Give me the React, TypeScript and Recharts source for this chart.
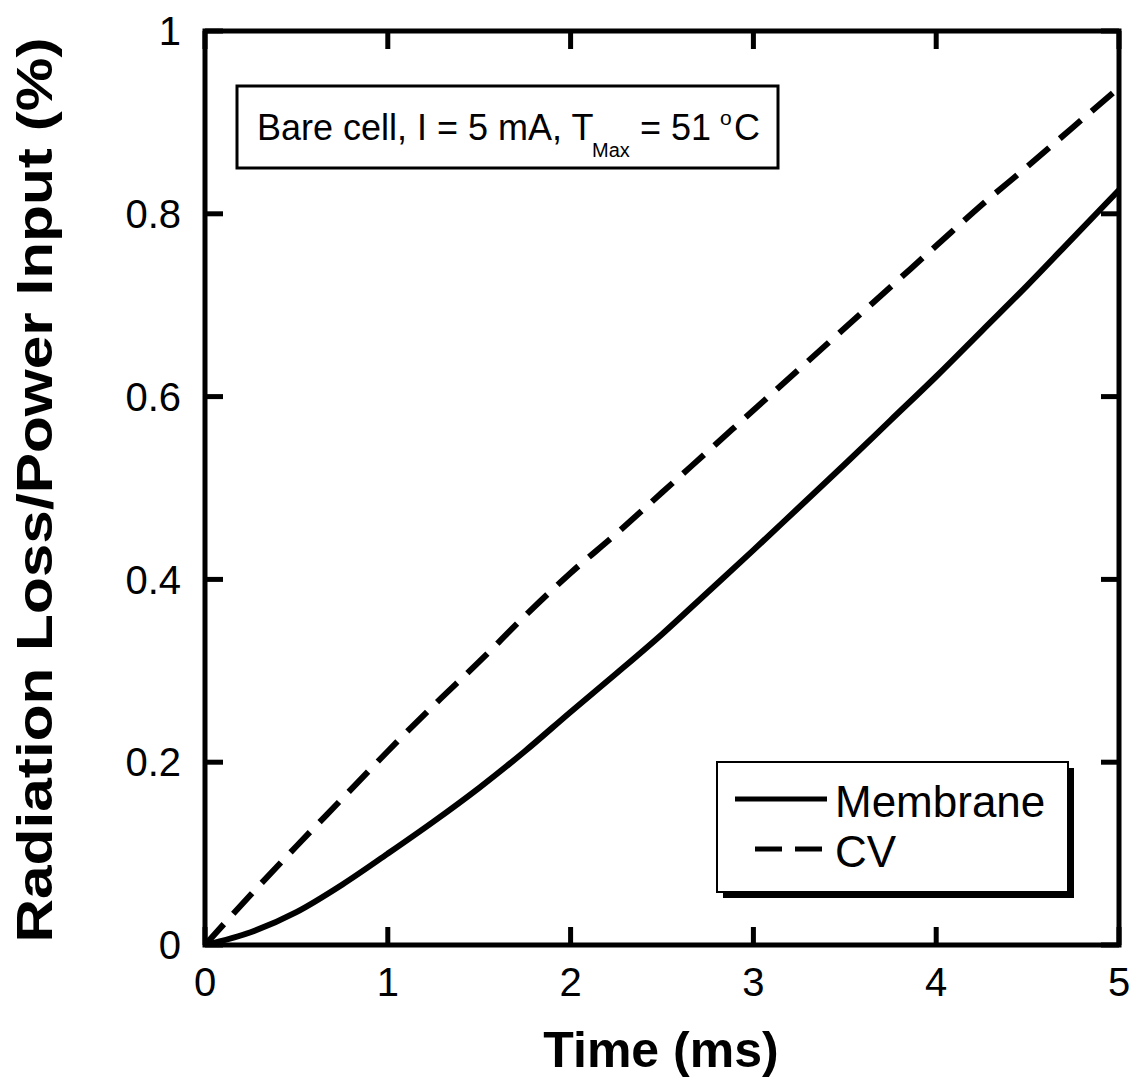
import { LineChart, Line, XAxis, YAxis, ReferenceArea } from 'recharts';

const FONT = '"Liberation Sans", Arial, Helvetica, sans-serif';

// time axis (ms)
const timeMs = [0, 0.25, 0.5, 0.75, 1, 1.25, 1.5, 1.75, 2, 2.25, 2.5, 2.75, 3, 3.25, 3.5, 3.75, 4, 4.25, 4.5, 4.75, 5];
// radiation loss / power input (%)
const membrane = [0, 0.014, 0.036, 0.066, 0.1, 0.135, 0.172, 0.212, 0.255, 0.297, 0.34, 0.386, 0.432, 0.479, 0.526, 0.574, 0.622, 0.672, 0.722, 0.774, 0.826];
const cv = [0, 0.055, 0.108, 0.16, 0.212, 0.262, 0.31, 0.36, 0.407, 0.45, 0.495, 0.54, 0.585, 0.63, 0.675, 0.72, 0.765, 0.81, 0.852, 0.895, 0.938];

const xTicks = [0, 1, 2, 3, 4, 5];
const yTicks = [0, 0.2, 0.4, 0.6, 0.8, 1];
const seriesNames = ['Membrane', 'CV'];

const data = timeMs.map((t, i) => ({ t, membrane: membrane[i], cv: cv[i] }));

// plot box edges in pixels (layout only)
const LEFT = 205;
const RIGHT = 1119;
const TOP = 31;
const BOTTOM = 945;
const TICK = 18;
const DASH = '28 14';

const renderXTick = (props: any) => {
  const cx = props.payload.coordinate;
  return (
    <g>
      <line x1={cx} y1={BOTTOM} x2={cx} y2={BOTTOM - TICK} stroke="#000" strokeWidth={5} />
      <line x1={cx} y1={TOP} x2={cx} y2={TOP + TICK} stroke="#000" strokeWidth={5} />
      <text x={cx} y={BOTTOM + 23} dy="0.71em" textAnchor="middle" fontFamily={FONT} fontSize={40} fill="#000">
        {props.payload.value}
      </text>
    </g>
  );
};

const renderYTick = (props: any) => {
  const cy = props.payload.coordinate;
  return (
    <g>
      <line x1={LEFT} y1={cy} x2={LEFT + TICK} y2={cy} stroke="#000" strokeWidth={5} />
      <line x1={RIGHT} y1={cy} x2={RIGHT - TICK} y2={cy} stroke="#000" strokeWidth={5} />
      <text x={LEFT - 24} y={cy} dy="0.355em" textAnchor="end" fontFamily={FONT} fontSize={40} fill="#000">
        {props.payload.value}
      </text>
    </g>
  );
};

export default function App() {
  return (
    <div style={{ position: 'absolute', left: 0, top: 0, background: '#fff' }}>
      <LineChart width={1137} height={1082} data={data} margin={{ top: TOP, right: 1137 - RIGHT, left: 10, bottom: 10 }}>
        <XAxis
          dataKey="t"
          type="number"
          domain={[0, 5]}
          ticks={xTicks}
          allowDataOverflow
          height={1082 - BOTTOM - 10}
          axisLine={false}
          tickLine={false}
          tick={renderXTick}
          label={{
            content: () => (
              <text x={661} y={1067} textAnchor="middle" fontFamily={FONT} fontWeight="bold" fontSize={50} fill="#000">
                Time (ms)
              </text>
            ),
          }}
        />
        <YAxis
          type="number"
          domain={[0, 1]}
          ticks={yTicks}
          allowDataOverflow
          width={LEFT - 10}
          axisLine={false}
          tickLine={false}
          tick={renderYTick}
          label={{
            content: () => (
              <text
                x={52}
                y={490}
                transform="rotate(-90 52 490)"
                textAnchor="middle"
                fontFamily={FONT}
                fontWeight="bold"
                fontSize={50}
                textLength={905}
                lengthAdjust="spacingAndGlyphs"
                fill="#000"
              >
                Radiation Loss/Power Input (%)
              </text>
            ),
          }}
        />
        <ReferenceArea x1={0} x2={5} y1={0} y2={1} fill="none" stroke="#000" strokeWidth={5} ifOverflow="visible" />
        <Line
          type="monotone"
          dataKey="membrane"
          name={seriesNames[0]}
          stroke="#000"
          strokeWidth={6}
          dot={false}
          isAnimationActive={false}
        />
        <Line
          type="monotone"
          dataKey="cv"
          name={seriesNames[1]}
          stroke="#000"
          strokeWidth={6}
          strokeDasharray={DASH}
          dot={false}
          isAnimationActive={false}
        />

        {/* condition box */}
        <g fontFamily={FONT} fill="#000">
          <rect x={237} y={86} width={541} height={82} fill="#fff" stroke="#000" strokeWidth={3} />
          <text x={257} y={140} fontSize={36}>Bare cell, I = 5 mA, T</text>
          <text x={592} y={157} fontSize={20}>Max</text>
          <text x={640} y={140} fontSize={36}>= 51</text>
          <text x={720} y={125} fontSize={21}>o</text>
          <text x={734} y={140} fontSize={36}>C</text>
        </g>

        {/* legend */}
        <g fontFamily={FONT} fill="#000">
          <rect x={723} y={768} width={351} height={130} fill="#000" />
          <rect x={717} y={762} width={351} height={130} fill="#fff" stroke="#000" strokeWidth={2} />
          <line x1={735} y1={799} x2={827} y2={799} stroke="#000" strokeWidth={5} />
          <text x={835} y={817} fontSize={44}>{seriesNames[0]}</text>
          <line x1={755} y1={849} x2={822} y2={849} stroke="#000" strokeWidth={5} strokeDasharray="27 13" />
          <text x={835} y={867} fontSize={44}>{seriesNames[1]}</text>
        </g>
      </LineChart>
    </div>
  );
}
